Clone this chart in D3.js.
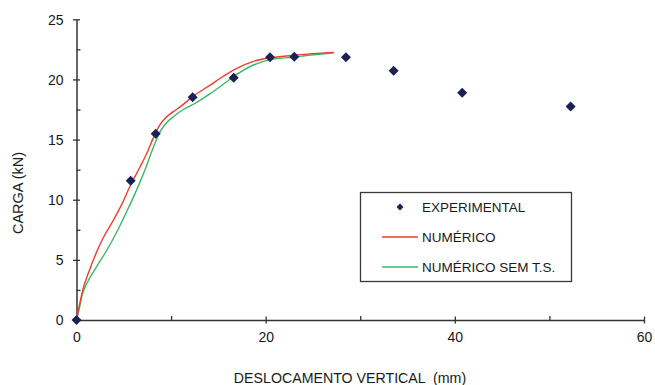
<!DOCTYPE html>
<html>
<head>
<meta charset="utf-8">
<script src="https://cdn.jsdelivr.net/npm/d3@7"></script>
<style>
  body { margin: 0; background: #fff; }
  text { font-family: "Liberation Sans", Arial, sans-serif; fill: #1a1a1a; }
</style>
</head>
<body>
<svg id="chart" width="655" height="385"></svg>
<script>
// Axis ticks
const xTicks = [0, 20, 40, 60];
const xMinorTicks = [10, 30, 50];
const yTicks = [0, 5, 10, 15, 20, 25];
const yMinorTicks = [2.5, 7.5, 12.5, 17.5, 22.5];

// Experimental load-displacement readings
const expX = [0, 5.73, 8.37, 12.28, 16.62, 20.46, 23.03, 28.49, 33.53, 40.78, 52.24];
const expY = [0, 11.58, 15.49, 18.51, 20.14, 21.84, 21.89, 21.84, 20.72, 18.90, 17.76];

// Numerical model
const numX = [0, 0.7, 1.4, 2.1, 2.8, 3.9, 4.9, 5.7, 6.7, 7.4, 8.1, 8.8, 9.4, 10.2, 11.1, 12.3, 14.1, 15.2, 16.9, 18.7, 20.5, 22.9, 25.0, 27.2];
const numY = [0, 2.6, 4.2, 5.6, 6.8, 8.3, 9.8, 11.2, 12.7, 13.8, 15.1, 16.2, 16.8, 17.3, 17.8, 18.6, 19.5, 20.1, 20.9, 21.5, 21.8, 22.0, 22.15, 22.25];

// Numerical model without T.S.
const semX = [0, 0.25, 0.6, 1.1, 2.1, 3.2, 4.25, 5.3, 6.35, 7.2, 8.1, 8.8, 9.4, 10.4, 11.3, 12.5, 14.1, 15.7, 16.9, 18.7, 20.5, 22.9, 25.0, 27.2];
const semY = [0, 0.8, 2.1, 3.05, 4.4, 5.8, 7.3, 9.0, 10.8, 12.4, 14.3, 15.6, 16.3, 17.0, 17.5, 18.0, 18.8, 19.7, 20.4, 21.2, 21.65, 21.85, 22.05, 22.2];

const seriesNames = ["EXPERIMENTAL", "NUMÉRICO", "NUMÉRICO SEM T.S."];
const xTitle = "DESLOCAMENTO VERTICAL  (mm)";
const yTitle = "CARGA (kN)";

const colExp = "#1b2152", colNum = "#ec3f2e", colSem = "#3bb866", colAxis = "#333";

const svg = d3.select("#chart");
const x = d3.scaleLinear().domain([0, 60]).range([76.5, 644]);
const y = d3.scaleLinear().domain([0, 25]).range([320, 19.3]);

// X axis: major ticks cross the line, minor ticks point inward
const gx = svg.append("g").attr("transform", `translate(0,${y(0)})`)
  .call(d3.axisBottom(x).tickValues(xTicks).tickSize(3.5).tickSizeOuter(0).tickPadding(0));
gx.select(".domain").attr("stroke", colAxis).attr("stroke-width", 1.5);
gx.selectAll(".tick line").attr("y1", -3.5).attr("y2", 3.5).attr("stroke", colAxis).attr("stroke-width", 1.3);
gx.selectAll(".tick text").attr("y", 22).attr("dy", 0).attr("font-size", 14).attr("fill", "#1a1a1a")
  .style("font-family", "'Liberation Sans', Arial, sans-serif");
svg.append("g").attr("transform", `translate(0,${y(0)})`)
  .call(d3.axisTop(x).tickValues(xMinorTicks).tickSize(4).tickFormat(""))
  .call(g => g.select(".domain").remove())
  .call(g => g.selectAll(".tick line").attr("stroke", colAxis).attr("stroke-width", 1.3));

// Y axis
const gy = svg.append("g").attr("transform", `translate(${x(0)},0)`)
  .call(d3.axisLeft(y).tickValues(yTicks).tickSize(3.5).tickSizeOuter(0).tickPadding(0));
gy.select(".domain").attr("stroke", colAxis).attr("stroke-width", 1.5);
gy.selectAll(".tick line").attr("x1", -3.5).attr("x2", 3.5).attr("stroke", colAxis).attr("stroke-width", 1.3);
gy.selectAll(".tick text").attr("x", -13).attr("dy", "0.35em").attr("font-size", 14).attr("fill", "#1a1a1a")
  .style("font-family", "'Liberation Sans', Arial, sans-serif");
svg.append("g").attr("transform", `translate(${x(0)},0)`)
  .call(d3.axisRight(y).tickValues(yMinorTicks).tickSize(4).tickFormat(""))
  .call(g => g.select(".domain").remove())
  .call(g => g.selectAll(".tick line").attr("stroke", colAxis).attr("stroke-width", 1.3));

// Axis titles
svg.append("text").attr("x", 350).attr("y", 383).attr("text-anchor", "middle")
  .attr("font-size", 14.2).text(xTitle).style("white-space", "pre");
svg.append("text").attr("transform", `translate(23,193) rotate(-90)`).attr("text-anchor", "middle")
  .attr("font-size", 14.5).text(yTitle);

// Curves
const line = d3.line().x(d => x(d[0])).y(d => y(d[1])).curve(d3.curveMonotoneX);
const semPts = semX.map((v, i) => [v, semY[i]]);
const numPts = numX.map((v, i) => [v, numY[i]]);
svg.append("path").datum(semPts).attr("d", line).attr("fill", "none")
  .attr("stroke", colSem).attr("stroke-width", 1.4);
svg.append("path").datum(numPts).attr("d", line).attr("fill", "none")
  .attr("stroke", colNum).attr("stroke-width", 1.4);

// Experimental markers (diamonds)
const diamond = d3.symbol().type(d3.symbolSquare).size(50);
svg.append("g").selectAll("path").data(expX.map((v, i) => [v, expY[i]])).join("path")
  .attr("d", diamond).attr("fill", colExp)
  .attr("transform", d => `translate(${x(d[0])},${y(d[1])}) rotate(45)`);

// Legend
const lg = svg.append("g");
lg.append("rect").attr("x", 360.5).attr("y", 192.5).attr("width", 211).attr("height", 89)
  .attr("fill", "#fff").attr("stroke", "#3a3a3a").attr("stroke-width", 1.3);
lg.append("path").attr("d", d3.symbol().type(d3.symbolSquare).size(24)())
  .attr("fill", colExp).attr("transform", "translate(400,207) rotate(45)");
lg.append("line").attr("x1", 382).attr("x2", 418).attr("y1", 237).attr("y2", 237)
  .attr("stroke", colNum).attr("stroke-width", 1.4);
lg.append("line").attr("x1", 382).attr("x2", 418).attr("y1", 267).attr("y2", 267)
  .attr("stroke", colSem).attr("stroke-width", 1.4);
lg.selectAll("text.lab").data(seriesNames).join("text").attr("class", "lab")
  .attr("x", 422).attr("y", (d, i) => 207 + i * 30).attr("dy", "0.35em")
  .attr("font-size", 13.5).text(d => d);
</script>
</body>
</html>
